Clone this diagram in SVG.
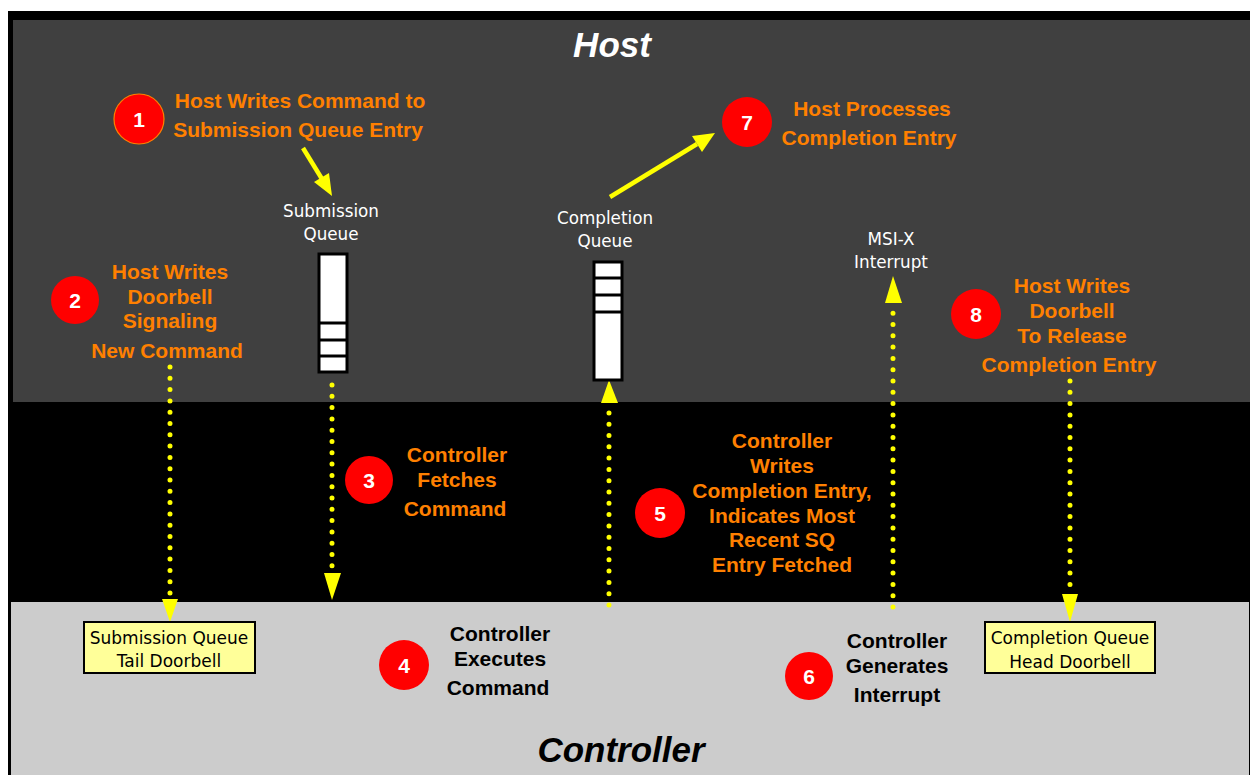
<svg xmlns="http://www.w3.org/2000/svg" width="1250" height="775" viewBox="0 0 1250 775">
<defs>
<style>
.step{font-family:"Liberation Sans",Arial,sans-serif;font-weight:bold;font-size:21px;fill:#ff8000;text-anchor:middle}
.stepk{font-family:"Liberation Sans",Arial,sans-serif;font-weight:bold;font-size:21px;fill:#000;text-anchor:middle}
.num{font-family:"Liberation Sans",Arial,sans-serif;font-weight:bold;font-size:21px;fill:#fff;text-anchor:middle}
.lbl{font-family:"DejaVu Sans","Noto Sans",sans-serif;font-size:16.8px;fill:#fff;text-anchor:middle}
.box{font-family:"DejaVu Sans","Noto Sans",sans-serif;font-size:17px;fill:#000;text-anchor:middle}
.title{font-family:"Liberation Sans",Arial,sans-serif;font-weight:bold;font-style:italic;font-size:35px;text-anchor:middle}
.dot{stroke:#ffff00;stroke-width:5;stroke-linecap:round;stroke-dasharray:0 11.3;fill:none}
.solid{stroke:#ffff00;stroke-width:4.5;fill:none}
.head{fill:#ffff00}
.circ{fill:#ff0000}
.q{fill:#fff;stroke:#000;stroke-width:3}
.db{fill:#ffff99;stroke:#000;stroke-width:2}
</style>
</defs>
<rect x="0" y="0" width="1250" height="775" fill="#fff"/>
<rect x="8" y="11" width="1242" height="764" fill="#000"/>
<rect x="13" y="20" width="1237" height="382" fill="#404040"/>
<rect x="11" y="602" width="1238" height="173" fill="#cccccc"/>
<text class="title" x="612" y="57" fill="#fff">Host</text>
<text class="title" x="621" y="762" fill="#000">Controller</text>

<g id="connectors">
<line class="solid" x1="303" y1="148" x2="322" y2="179"/>
<polygon class="head" points="332,196 314,182 329,173"/>
<line class="solid" x1="610" y1="197" x2="697" y2="144"/>
<polygon class="head" points="715,133 702,152 692,136"/>
<line class="dot" x1="170" y1="367" x2="170" y2="594"/>
<polygon class="head" points="162,599 178,599 170,622"/>
<line class="dot" x1="332" y1="385" x2="332" y2="568"/>
<polygon class="head" points="324,573 341,573 332,600"/>
<line class="dot" x1="609" y1="605" x2="609" y2="410"/>
<polygon class="head" points="601,403 618,403 609,380"/>
<line class="dot" x1="893" y1="607" x2="893" y2="311"/>
<polygon class="head" points="885,303 902,303 893,276"/>
<line class="dot" x1="1070" y1="381" x2="1070" y2="590"/>
<polygon class="head" points="1062,594 1078,594 1070,622"/>
</g>

<g id="step1">
<circle class="circ" cx="139" cy="119" r="25" stroke="#ff8000" stroke-width="1.2"/>
<text class="num" x="139" y="127">1</text>
<text class="step" x="300" y="108">Host Writes Command to</text>
<text class="step" x="298" y="137">Submission Queue Entry</text>
</g>
<g id="step2">
<circle class="circ" cx="75" cy="300" r="24"/>
<text class="num" x="75" y="308">2</text>
<text class="step" x="170" y="279">Host Writes</text>
<text class="step" x="170" y="304">Doorbell</text>
<text class="step" x="170" y="328">Signaling</text>
<text class="step" x="167" y="358">New Command</text>
</g>
<g id="submission-queue">
<text class="lbl" x="331" y="217">Submission</text>
<text class="lbl" x="331" y="240">Queue</text>
<rect class="q" x="319" y="254" width="28" height="118"/>
<line x1="319" y1="323" x2="347" y2="323" stroke="#000" stroke-width="3"/>
<line x1="319" y1="340" x2="347" y2="340" stroke="#000" stroke-width="3"/>
<line x1="319" y1="356" x2="347" y2="356" stroke="#000" stroke-width="3"/>
</g>
<g id="completion-queue">
<text class="lbl" x="605" y="224">Completion</text>
<text class="lbl" x="605" y="247">Queue</text>
<rect class="q" x="594" y="262" width="28" height="118"/>
<line x1="594" y1="278" x2="622" y2="278" stroke="#000" stroke-width="3"/>
<line x1="594" y1="295" x2="622" y2="295" stroke="#000" stroke-width="3"/>
<line x1="594" y1="312" x2="622" y2="312" stroke="#000" stroke-width="3"/>
</g>
<g id="msix">
<text class="lbl" x="891" y="245">MSI-X</text>
<text class="lbl" x="891" y="268">Interrupt</text>
</g>
<g id="step7">
<circle class="circ" cx="747" cy="122" r="25"/>
<text class="num" x="747" y="130">7</text>
<text class="step" x="872" y="116">Host Processes</text>
<text class="step" x="869" y="145">Completion Entry</text>
</g>
<g id="step8">
<circle class="circ" cx="976" cy="314" r="25"/>
<text class="num" x="976" y="322">8</text>
<text class="step" x="1072" y="293">Host Writes</text>
<text class="step" x="1072" y="318">Doorbell</text>
<text class="step" x="1072" y="343">To Release</text>
<text class="step" x="1069" y="372">Completion Entry</text>
</g>
<g id="step3">
<circle class="circ" cx="369" cy="480" r="24"/>
<text class="num" x="369" y="488">3</text>
<text class="step" x="457" y="462">Controller</text>
<text class="step" x="457" y="487">Fetches</text>
<text class="step" x="455" y="516">Command</text>
</g>
<g id="step5">
<circle class="circ" cx="660" cy="513" r="25"/>
<text class="num" x="660" y="521">5</text>
<text class="step" x="782" y="448">Controller</text>
<text class="step" x="782" y="473">Writes</text>
<text class="step" x="782" y="498">Completion Entry,</text>
<text class="step" x="782" y="523">Indicates Most</text>
<text class="step" x="782" y="547">Recent SQ</text>
<text class="step" x="782" y="572">Entry Fetched</text>
</g>
<g id="sq-tail-doorbell">
<rect class="db" x="84" y="622" width="171" height="51"/>
<text class="box" x="169" y="644">Submission Queue</text>
<text class="box" x="169" y="667">Tail Doorbell</text>
</g>
<g id="step4">
<circle class="circ" cx="404" cy="665" r="25"/>
<text class="num" x="404" y="673">4</text>
<text class="stepk" x="500" y="641">Controller</text>
<text class="stepk" x="500" y="666">Executes</text>
<text class="stepk" x="498" y="695">Command</text>
</g>
<g id="step6">
<circle class="circ" cx="809" cy="676" r="24"/>
<text class="num" x="809" y="684">6</text>
<text class="stepk" x="897" y="648">Controller</text>
<text class="stepk" x="897" y="673">Generates</text>
<text class="stepk" x="897" y="702">Interrupt</text>
</g>
<g id="cq-head-doorbell">
<rect class="db" x="985" y="622" width="170" height="51"/>
<text class="box" x="1070" y="644">Completion Queue</text>
<text class="box" x="1070" y="668">Head Doorbell</text>
</g>
</svg>
